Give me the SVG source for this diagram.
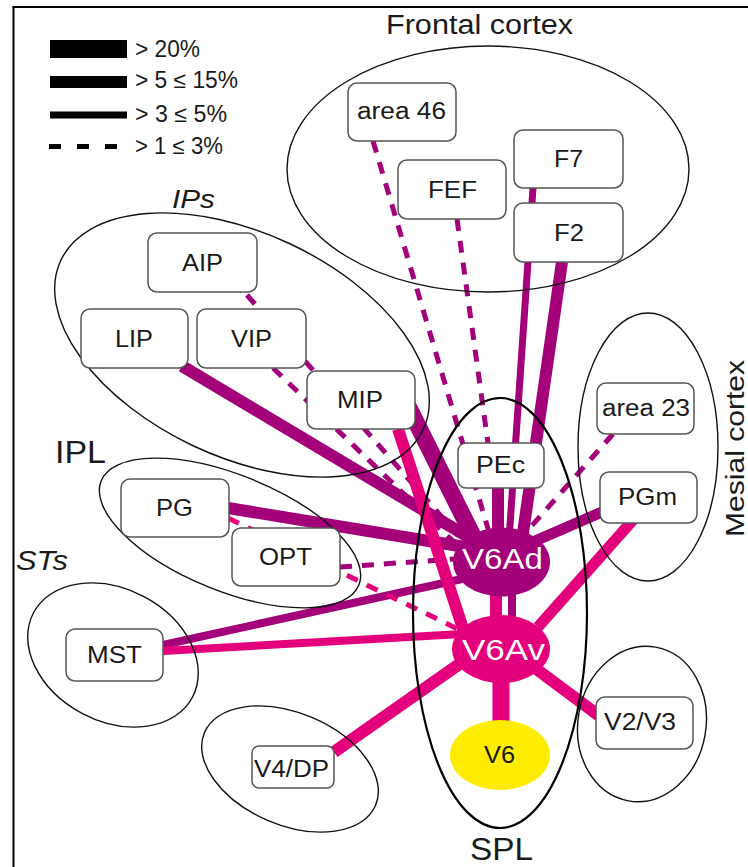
<svg xmlns="http://www.w3.org/2000/svg" width="748" height="867" viewBox="0 0 748 867">
<style>
.grp{fill:none;stroke:#111;stroke-width:1.4}
.spl{fill:none;stroke:#000;stroke-width:2.2}
.box{fill:#fff;stroke:#555;stroke-width:1.5}
.t{font-family:"Liberation Sans",Arial,sans-serif;fill:#1a1a1a}
.it{font-style:italic}
.w{fill:#fff}
.d{stroke:#a3007a;fill:none}
.p{stroke:#e4007c;fill:none}
.w17{stroke-width:17}
.w12{stroke-width:12}
.w11{stroke-width:11}
.w8{stroke-width:8}
.w7{stroke-width:7}
.ds{stroke-width:5;stroke-dasharray:12 10}
.lg{stroke:#000;fill:none}
</style>
<rect width="748" height="867" fill="#fff"/>
<g id="frame" stroke="#000" stroke-width="2" fill="none">
<line x1="13.5" y1="7" x2="13.5" y2="867"/>
<line x1="12.5" y1="7" x2="748" y2="7"/>
</g>
<g id="legend">
<line class="lg" x1="50" y1="49" x2="127" y2="49" stroke-width="18"/>
<line class="lg" x1="50" y1="82" x2="127" y2="82" stroke-width="12"/>
<line class="lg" x1="50" y1="115" x2="127" y2="115" stroke-width="7"/>
<line class="lg" x1="49" y1="146.5" x2="127" y2="146.5" stroke-width="5" stroke-dasharray="12 16"/>
<text class="t" x="135" y="57" font-size="23" textLength="65" lengthAdjust="spacingAndGlyphs">&gt; 20%</text>
<text class="t" x="135" y="88" font-size="23" textLength="103" lengthAdjust="spacingAndGlyphs">&gt; 5 ≤ 15%</text>
<text class="t" x="135" y="122" font-size="23" textLength="92" lengthAdjust="spacingAndGlyphs">&gt; 3 ≤ 5%</text>
<text class="t" x="135" y="154" font-size="23" textLength="88" lengthAdjust="spacingAndGlyphs">&gt; 1 ≤ 3%</text>
</g>
<g id="connectors">
<line class="d ds" x1="373" y1="141" x2="489" y2="532"/>
<line class="d ds" x1="457" y1="219" x2="500" y2="530"/>
<line class="d w7" x1="533" y1="188" x2="509" y2="540"/>
<line class="d w12" x1="562" y1="262" x2="522" y2="540"/>
<line class="d w12" x1="498" y1="480" x2="498" y2="540"/>
<line class="d w12" x1="182" y1="366" x2="470" y2="538"/>
<line class="d ds" x1="247" y1="295" x2="462" y2="540"/>
<line class="d ds" x1="273" y1="368" x2="457" y2="545"/>
<line class="d w17" x1="405" y1="400" x2="476" y2="542"/>
<line class="d w12" x1="228" y1="508" x2="465" y2="547"/>
<line class="d ds" x1="340" y1="567" x2="455" y2="559"/>
<line class="d w8" x1="163" y1="645" x2="462" y2="579"/>
<line class="d w11" x1="602" y1="512" x2="535" y2="541"/>
<line class="d ds" x1="613" y1="434" x2="528" y2="530"/>
<line class="d w8" x1="512" y1="590" x2="512" y2="625"/>
<line class="p ds" x1="228" y1="518" x2="458" y2="629"/>
<line class="p w12" x1="398" y1="429" x2="466" y2="638"/>
<line class="p w8" x1="163" y1="651" x2="462" y2="634"/>
<line class="p w11" x1="633" y1="520" x2="538" y2="627"/>
<line class="p w12" x1="496" y1="590" x2="496" y2="625"/>
<line class="p w17" x1="501" y1="675" x2="501" y2="730"/>
<line class="p w12" x1="535" y1="668" x2="602" y2="718"/>
<line class="p w12" x1="334" y1="752" x2="468" y2="658"/>
</g>
<g id="regions">
<ellipse id="frontal" class="grp" cx="488" cy="169" rx="201" ry="123"/>
<ellipse id="ips" class="grp" cx="242" cy="345" rx="200" ry="112" transform="rotate(25 242 345)"/>
<ellipse id="ipl" class="grp" cx="230" cy="533" rx="139" ry="58" transform="rotate(22 230 533)"/>
<ellipse id="sts" class="grp" cx="113" cy="655" rx="90" ry="66" transform="rotate(28 113 655)"/>
<ellipse id="v4reg" class="grp" cx="290" cy="769" rx="93" ry="56" transform="rotate(23 290 769)"/>
<ellipse id="mesial" class="grp" cx="648" cy="447" rx="70" ry="134"/>
<ellipse id="v23reg" class="grp" cx="642" cy="724" rx="64" ry="78" transform="rotate(10 642 724)"/>
<ellipse id="spl" class="spl" cx="500" cy="613" rx="87" ry="215"/>
</g>
<g id="labels">
<text class="t" x="386" y="34" font-size="27" textLength="187" lengthAdjust="spacingAndGlyphs">Frontal cortex</text>
<text class="t it" x="172" y="208" font-size="25" textLength="43" lengthAdjust="spacingAndGlyphs">IPs</text>
<text class="t" x="55" y="463" font-size="32" textLength="51" lengthAdjust="spacingAndGlyphs">IPL</text>
<text class="t it" x="16" y="570" font-size="27" textLength="52" lengthAdjust="spacingAndGlyphs">STs</text>
<text class="t" x="470" y="860" font-size="32" textLength="63" lengthAdjust="spacingAndGlyphs">SPL</text>
<text class="t" transform="translate(744 537) rotate(-90)" x="0" y="0" font-size="25" textLength="177" lengthAdjust="spacingAndGlyphs">Mesial cortex</text>
</g>
<g id="area46"><rect class="box" x="348" y="83" width="108" height="58" rx="9"/><text class="t" x="357" y="119" font-size="23" textLength="89" lengthAdjust="spacingAndGlyphs">area 46</text></g>
<g id="FEF"><rect class="box" x="398" y="160" width="108" height="59" rx="9"/><text class="t" x="428" y="198" font-size="23" textLength="49" lengthAdjust="spacingAndGlyphs">FEF</text></g>
<g id="F7"><rect class="box" x="514" y="130" width="109" height="58" rx="9"/><text class="t" x="554" y="167" font-size="23" textLength="29" lengthAdjust="spacingAndGlyphs">F7</text></g>
<g id="F2"><rect class="box" x="514" y="203" width="109" height="59" rx="9"/><text class="t" x="554" y="241" font-size="23" textLength="30" lengthAdjust="spacingAndGlyphs">F2</text></g>
<g id="AIP"><rect class="box" x="148" y="233" width="109" height="59" rx="9"/><text class="t" x="182" y="271" font-size="24" textLength="41" lengthAdjust="spacingAndGlyphs">AIP</text></g>
<g id="LIP"><rect class="box" x="81" y="309" width="107" height="59" rx="9"/><text class="t" x="115" y="347" font-size="24" textLength="38" lengthAdjust="spacingAndGlyphs">LIP</text></g>
<g id="VIP"><rect class="box" x="197" y="309" width="109" height="59" rx="9"/><text class="t" x="231" y="347" font-size="24" textLength="41" lengthAdjust="spacingAndGlyphs">VIP</text></g>
<g id="MIP"><rect class="box" x="307" y="371" width="108" height="58" rx="9"/><text class="t" x="337" y="408" font-size="24" textLength="46" lengthAdjust="spacingAndGlyphs">MIP</text></g>
<g id="PG"><rect class="box" x="121" y="479" width="108" height="58" rx="9"/><text class="t" x="156" y="516" font-size="24" textLength="37" lengthAdjust="spacingAndGlyphs">PG</text></g>
<g id="OPT"><rect class="box" x="232" y="528" width="108" height="58" rx="9"/><text class="t" x="259" y="565" font-size="24" textLength="53" lengthAdjust="spacingAndGlyphs">OPT</text></g>
<g id="MST"><rect class="box" x="66" y="629" width="97" height="52" rx="9"/><text class="t" x="87" y="663" font-size="24" textLength="55" lengthAdjust="spacingAndGlyphs">MST</text></g>
<g id="PEc"><rect class="box" x="458" y="443" width="86" height="45" rx="8"/><text class="t" x="476" y="473" font-size="24" textLength="49" lengthAdjust="spacingAndGlyphs">PEc</text></g>
<g id="area23"><rect class="box" x="597" y="383" width="97" height="51" rx="9"/><text class="t" x="602" y="416" font-size="23" textLength="88" lengthAdjust="spacingAndGlyphs">area 23</text></g>
<g id="PGm"><rect class="box" x="600" y="472" width="97" height="51" rx="9"/><text class="t" x="618" y="505" font-size="24" textLength="59" lengthAdjust="spacingAndGlyphs">PGm</text></g>
<g id="V4DP"><rect class="box" x="252" y="746" width="82" height="42" rx="7"/><text class="t" x="254" y="777" font-size="23" textLength="75" lengthAdjust="spacingAndGlyphs">V4/DP</text></g>
<g id="V2V3"><rect class="box" x="596" y="697" width="97" height="52" rx="9"/><text class="t" x="604" y="730" font-size="23" textLength="72" lengthAdjust="spacingAndGlyphs">V2/V3</text></g>
<g id="V6Ad"><ellipse cx="501.5" cy="562" rx="48.5" ry="34.5" fill="#a3007a"/><text class="t w" x="462" y="569" font-size="29" textLength="81" lengthAdjust="spacingAndGlyphs">V6Ad</text></g>
<g id="V6Av"><ellipse cx="501" cy="649" rx="49" ry="34" fill="#e4007c"/><text class="t w" x="462" y="660" font-size="29" textLength="83" lengthAdjust="spacingAndGlyphs">V6Av</text></g>
<g id="V6"><ellipse cx="500" cy="755" rx="50" ry="35" fill="#ffec00"/><text class="t" x="484" y="763" font-size="23" textLength="31" lengthAdjust="spacingAndGlyphs">V6</text></g>
</svg>
